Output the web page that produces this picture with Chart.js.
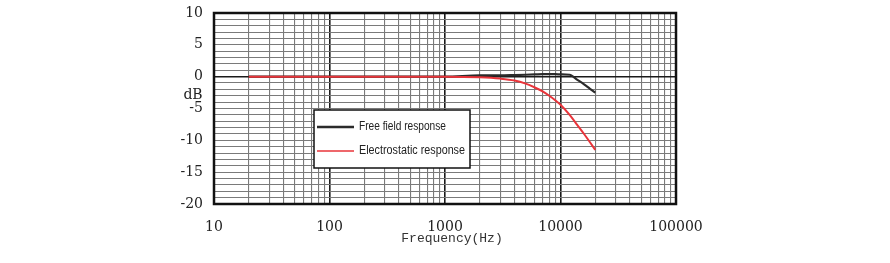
<!DOCTYPE html>
<html>
<head>
<meta charset="utf-8">
<script src="https://cdn.jsdelivr.net/npm/chart.js@4/dist/chart.umd.min.js"></script>
<style>
  html, body { margin: 0; padding: 0; background: #fff; }
  #wrap { width: 890px; height: 263px; position: relative; }
</style>
</head>
<body>
<div id="wrap"><canvas id="c" width="890" height="263"></canvas></div>
<script>
// ---- data ----
const frequencies = [20, 50, 100, 200, 500, 1000, 2000, 3000, 4000, 5000, 6000, 7000, 8000, 9000, 10000, 12000, 14000, 16000, 18000, 20000];
const freeFieldResponse = [0, 0, 0, 0, 0, 0, 0.2, 0.2, 0.25, 0.3, 0.35, 0.4, 0.4, 0.4, 0.35, 0.3, -0.5, -1.2, -1.9, -2.5];
const electrostaticResponse = [0, 0, 0, 0, 0, 0, -0.1, -0.3, -0.6, -1.1, -1.7, -2.3, -3.0, -3.7, -4.4, -6.0, -7.6, -9.0, -10.3, -11.5];
const seriesNames = ["Free field response", "Electrostatic response"];
const xDecadeLabels = [10, 100, 1000, 10000, 100000];
const yLabelStep = 5;
const yLabel = "dB";
const xTitle = "Frequency(Hz)";

const toPts = (ys) => frequencies.map((f, i) => ({ x: f, y: ys[i] }));

const BLACK = "#2b2b2b";
const RED = "#e8343a";

const overlay = {
  id: "overlay",
  beforeDatasetsDraw(chart) {
    const { ctx, chartArea: a } = chart;
    ctx.save();
    ctx.strokeStyle = "#111";
    ctx.lineWidth = 2.5;
    ctx.strokeRect(a.left, a.top, a.right - a.left, a.bottom - a.top);
    ctx.restore();
  },
  afterDraw(chart) {
    const { ctx, chartArea: a, scales } = chart;
    ctx.save();
    // dB label
    ctx.font = "14px 'DejaVu Serif', serif";
    ctx.fillStyle = "#222";
    ctx.textAlign = "center";
    ctx.textBaseline = "middle";
    ctx.fillText(yLabel, a.left - 21, scales.y.getPixelForValue(-2.9));
    // x title
    ctx.font = "13px 'Liberation Mono', monospace";
    ctx.fillStyle = "#333";
    ctx.fillText(xTitle, scales.x.getPixelForValue(1150), a.bottom + 35);
    // legend
    const lx = a.left + 100, ly = a.top + 97, lw = 156, lh = 58;
    ctx.fillStyle = "#fff";
    ctx.fillRect(lx, ly, lw, lh);
    ctx.strokeStyle = "#111";
    ctx.lineWidth = 1.5;
    ctx.strokeRect(lx, ly, lw, lh);
    const items = [
      { label: seriesNames[0], color: BLACK, w: 2.5, y: ly + 17, tw: 87 },
      { label: seriesNames[1], color: RED, w: 1.5, y: ly + 41, tw: 106 }
    ];
    ctx.textAlign = "left";
    ctx.font = "12px 'Liberation Sans', sans-serif";
    items.forEach(it => {
      ctx.strokeStyle = it.color;
      ctx.lineWidth = it.w;
      ctx.beginPath();
      ctx.moveTo(lx + 3, it.y);
      ctx.lineTo(lx + 40, it.y);
      ctx.stroke();
      ctx.fillStyle = "#222";
      ctx.fillText(it.label, lx + 45, it.y, it.tw);
    });
    ctx.restore();
  }
};

new Chart(document.getElementById("c"), {
  type: "line",
  data: {
    datasets: [
      { label: seriesNames[1], data: toPts(electrostaticResponse), borderColor: RED, borderWidth: 2, pointRadius: 0, cubicInterpolationMode: "monotone" },
      { label: seriesNames[0], data: toPts(freeFieldResponse), borderColor: BLACK, borderWidth: 2.2, pointRadius: 0, cubicInterpolationMode: "monotone" }
    ]
  },
  options: {
    responsive: false,
    animation: false,
    events: [],
    layout: { padding: { top: 13, right: 214, bottom: 0, left: 0 } },
    plugins: { legend: { display: false }, tooltip: { enabled: false } },
    scales: {
      x: {
        type: "logarithmic",
        min: 10, max: 100000,
        afterBuildTicks(scale) {
          const t = [];
          for (let d = 10; d < 100000; d *= 10) {
            for (let m = 1; m < 10; m++) t.push({ value: d * m });
          }
          t.push({ value: 100000 });
          scale.ticks = t;
        },
        afterFit(scale) { scale.height = 59; scale.paddingLeft = 0; scale.paddingRight = 0; },
        border: { display: false },
        grid: {
          drawTicks: false,
          color: (c) => xDecadeLabels.includes(c.tick.value) ? "#1a1a1a" : "#7a7a7a",
          lineWidth: (c) => xDecadeLabels.includes(c.tick.value) ? 1.6 : 1.1
        },
        ticks: {
          autoSkip: false, maxRotation: 0, padding: 15,
          color: "#222",
          font: { family: "'DejaVu Serif', serif", size: 14 },
          callback: (v) => xDecadeLabels.includes(v) ? String(v) : ""
        }
      },
      y: {
        min: -20, max: 10,
        afterFit(scale) { scale.width = 214; scale.paddingTop = 0; scale.paddingBottom = 0; },
        border: { display: false },
        grid: {
          drawTicks: false,
          color: (c) => c.tick.value === 0 ? "#1a1a1a" : "#7a7a7a",
          lineWidth: (c) => c.tick.value === 0 ? 1.6 : 1.1
        },
        ticks: {
          stepSize: 1, autoSkip: false, padding: 11,
          color: "#222",
          font: { family: "'DejaVu Serif', serif", size: 14 },
          callback: (v) => v % yLabelStep === 0 ? String(v) : ""
        }
      }
    }
  },
  plugins: [overlay]
});
</script>
</body>
</html>
